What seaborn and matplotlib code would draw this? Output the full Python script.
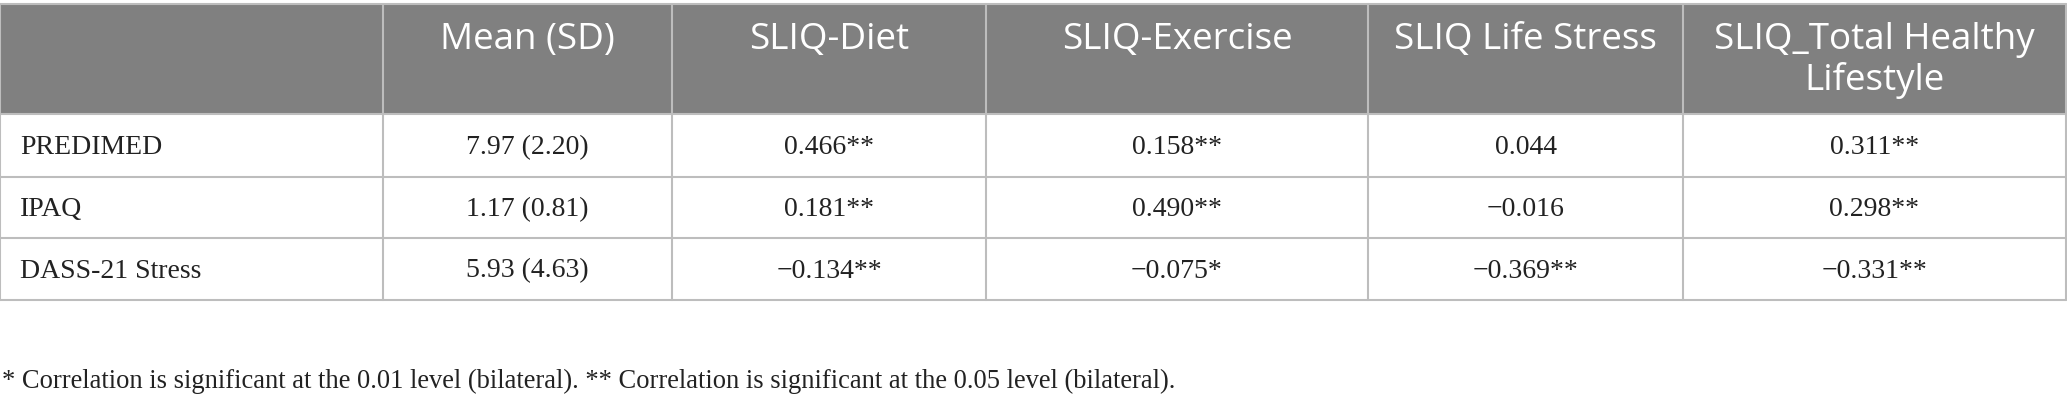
import numpy as np
import pandas as pd
import seaborn as sns
import matplotlib.pyplot as plt

# Datos de la tabla
columns = ["Mean (SD)", "SLIQ-Diet", "SLIQ-Exercise", "SLIQ Life Stress",
           "SLIQ_Total Healthy\nLifestyle"]
row_labels = ["PREDIMED", "IPAQ", "DASS-21 Stress"]
mean_sd = ["7.97 (2.20)", "1.17 (0.81)", "5.93 (4.63)"]
sliq_diet = ["0.466**", "0.181**", "\u22120.134**"]
sliq_exercise = ["0.158**", "0.490**", "\u22120.075*"]
sliq_life_stress = ["0.044", "\u22120.016", "\u22120.369**"]
sliq_total = ["0.311**", "0.298**", "\u22120.331**"]
footnote = ("* Correlation is significant at the 0.01 level (bilateral). "
            "** Correlation is significant at the 0.05 level (bilateral).")

df = pd.DataFrame({columns[0]: mean_sd, columns[1]: sliq_diet,
                   columns[2]: sliq_exercise, columns[3]: sliq_life_stress,
                   columns[4]: sliq_total}, index=row_labels)

sns.set_theme(style="white")

# Geometria (pixeles)
W, H = 2067, 405
col_edges = [0, 383, 672, 986, 1368, 1683, 2066]
row_edges = [4, 114, 177, 238, 300]
header_bg = "#808080"
line_col = "#bdbdbd"

fig = plt.figure(figsize=(W / 100, H / 100), dpi=100)
ax = fig.add_axes([0, 0, 1, 1])
ax.set_xlim(0, W)
ax.set_ylim(H, 0)
ax.axis("off")

# Cabecera
ax.fill_between([col_edges[0], col_edges[-1]], row_edges[0], row_edges[1],
                color=header_bg, lw=0)

# Lineas
for y in row_edges:
    ax.plot([col_edges[0], col_edges[-1]], [y, y], color=line_col, lw=1.5)
for x in col_edges:
    ax.plot([x, x], [row_edges[0], row_edges[-1]], color=line_col, lw=1.5)

# Texto cabecera
for j, name in enumerate(columns):
    xc = (col_edges[j + 1] + col_edges[j + 2]) / 2
    ax.text(xc, 22, name, color="white", fontsize=26.5, family="Open Sans",
            ha="center", va="top", linespacing=1.15)

# Celdas
for i, label in enumerate(df.index):
    yc = (row_edges[i + 1] + row_edges[i + 2]) / 2 + 2
    ax.text(20, yc, label, fontsize=20, family="Liberation Serif",
            ha="left", va="center", color="#222222")
    for j, name in enumerate(df.columns):
        xc = (col_edges[j + 1] + col_edges[j + 2]) / 2
        ax.text(xc, yc, df.loc[label, name], fontsize=20,
                family="Liberation Serif", ha="center", va="center",
                color="#222222")

ax.text(2, 381, footnote, fontsize=19.1, family="Liberation Serif",
        ha="left", va="center", color="#222222")

fig.savefig("out.png", dpi=100)
